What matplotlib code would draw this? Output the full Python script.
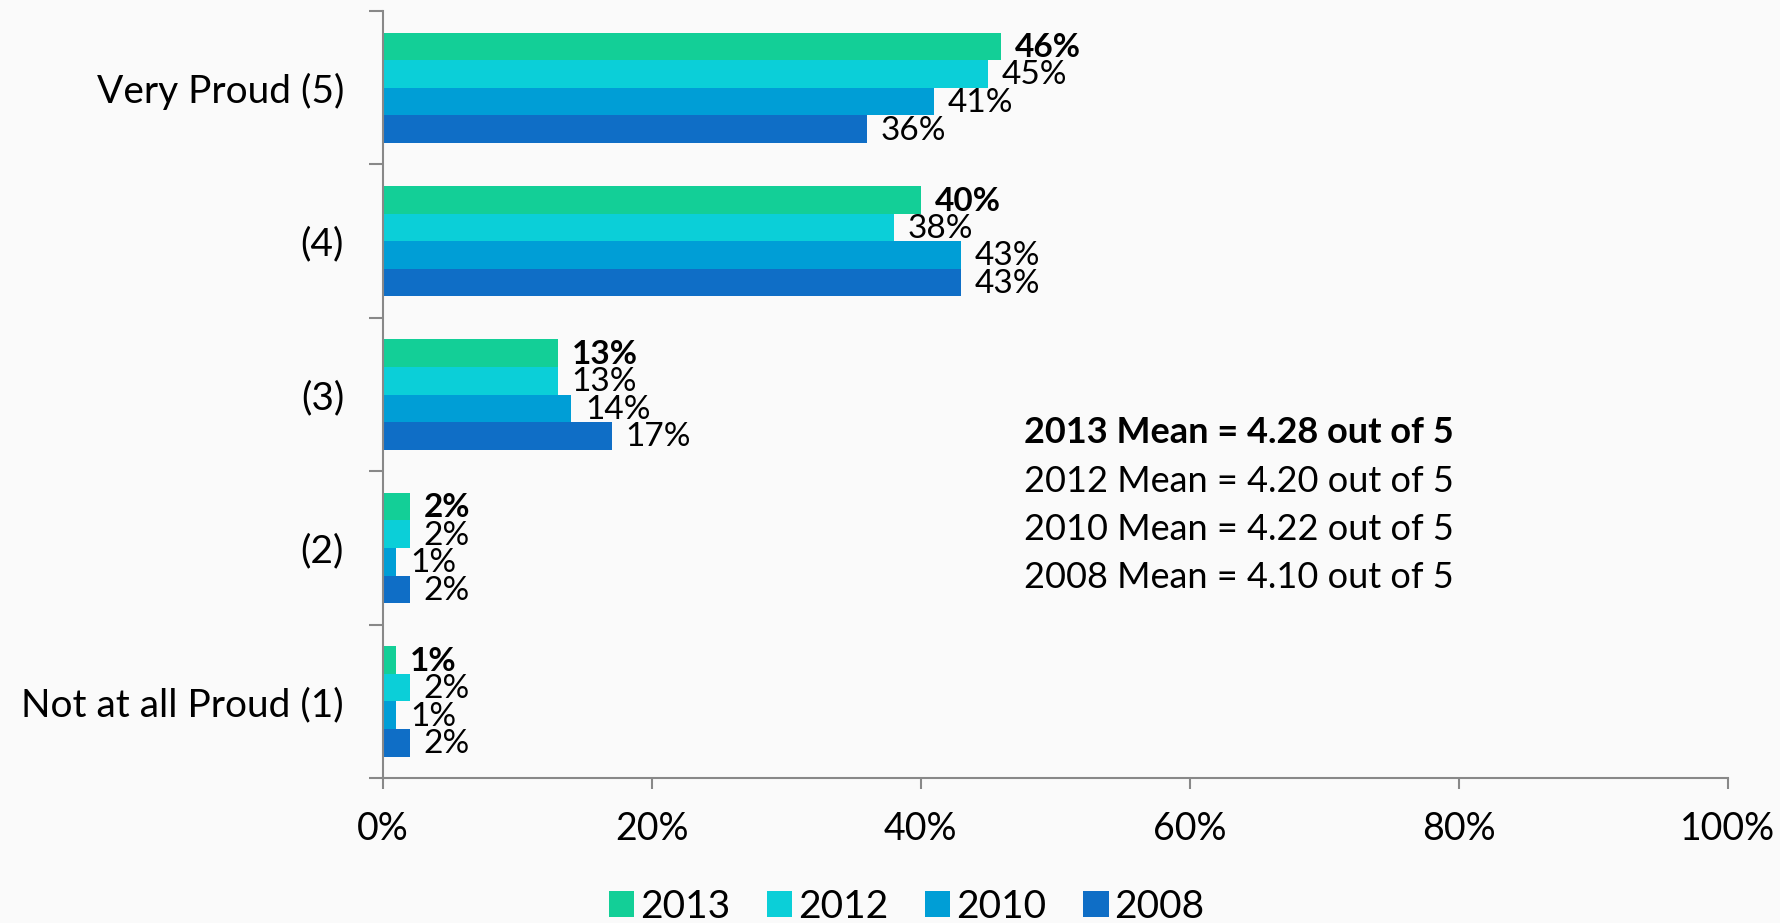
import matplotlib
matplotlib.use("Agg")
import matplotlib.pyplot as plt
import numpy as np

plt.rcParams['font.family'] = ['Lato', 'DejaVu Sans']

# 数据
categories = ['Very Proud (5)', '(4)', '(3)', '(2)', 'Not at all Proud (1)']
years = ['2013', '2012', '2010', '2008']
v2013 = [46, 40, 13, 2, 1]
v2012 = [45, 38, 13, 2, 2]
v2010 = [41, 43, 14, 1, 1]
v2008 = [36, 43, 17, 2, 2]
series = [v2013, v2012, v2010, v2008]
colors = ['#13CF97', '#0BCFD8', '#009ED6', '#0F6EC6']
means = ['2013 Mean = 4.28 out of 5', '2012 Mean = 4.20 out of 5',
         '2010 Mean = 4.22 out of 5', '2008 Mean = 4.10 out of 5']

fig = plt.figure(figsize=(17.81, 9.23), dpi=100)
fig.patch.set_facecolor('#fafafa')
ax = fig.add_axes([0.215, 0.157, 0.755, 0.831])
ax.set_facecolor('#fafafa')

h = 0.18
y = np.arange(len(categories))
for j, vals in enumerate(series):
    pos = y + (j - 1.5) * h
    ax.barh(pos, vals, height=h, color=colors[j], label=years[j])
    for p, v in zip(pos, vals):
        ax.annotate(f'{v}%', (v, p), xytext=(10, -1), textcoords='offset points',
                    va='center', ha='left', fontsize=24,
                    fontweight='bold' if j == 0 else 'normal')

ax.set_xlim(0, 100)
ax.set_ylim(len(categories) - 0.5, -0.5)
ax.set_xticks(range(0, 101, 20))
ax.set_xticklabels([f'{t}%' for t in range(0, 101, 20)], fontsize=27)
ax.set_yticks(y)
ax.set_yticklabels(categories, fontsize=28)
ax.set_yticks(np.arange(-0.5, len(categories), 1), minor=True)
ax.tick_params(axis='y', which='major', length=0, pad=28)
ax.tick_params(axis='y', which='minor', length=10, color='#888888', width=1.5)
ax.tick_params(axis='x', length=8, color='#888888', width=1.5, pad=16)
for s in ['top', 'right']:
    ax.spines[s].set_visible(False)
for s in ['left', 'bottom']:
    ax.spines[s].set_color('#888888')
    ax.spines[s].set_linewidth(1.5)

for k, txt in enumerate(means):
    ax.text(47.7, 2.25 + k * 0.315, txt, fontsize=26, va='center', ha='left',
            fontweight='bold' if k == 0 else 'normal')

fig.legend(loc='lower center', bbox_to_anchor=(0.509, -0.04), ncol=4, frameon=False,
           fontsize=28, handlelength=0.65, handleheight=0.65, handletextpad=0.15,
           columnspacing=0.95)

fig.savefig('out.png', dpi=100, facecolor=fig.get_facecolor())
